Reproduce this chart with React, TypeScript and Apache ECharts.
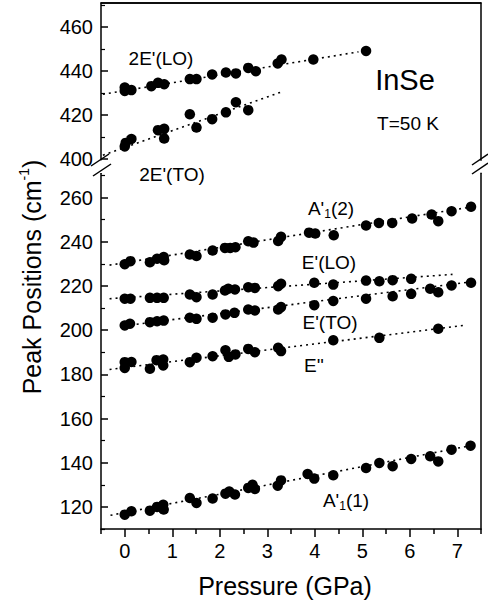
import React, { useEffect, useRef } from "react";
import * as echarts from "echarts";

// ---- data (pressure GPa, peak position cm^-1) ----
const lo2E: number[][] = [
  [0, 431], [0, 432.6], [0.14, 431.4], [0.56, 433.2], [0.7, 434.7], [0.83, 434.1],
  [1.37, 436.4], [1.51, 436.4], [1.84, 438.5], [2.13, 439.4], [2.34, 439], [2.6, 441.5],
  [2.76, 440], [3.22, 443.5], [3.3, 445.3], [3.97, 445.3], [5.08, 449.2],
];
const lo2EFit: number[][] = [[-0.46, 429.5], [4.92, 448.8]];

const to2E: number[][] = [
  [0, 405.8], [0.02, 407.4], [0.14, 409.2], [0.7, 413.2], [0.83, 413.8], [0.83, 409.4],
  [1.37, 420.4], [1.51, 414.4], [1.84, 418.2], [2.13, 421.3], [2.34, 425.9], [2.6, 422.3],
];
const to2EFit: number[][] = [[-0.46, 401.8], [3.3, 430.6]];

const a12: number[][] = [
  [0, 229.8], [0.12, 231.2], [0.53, 230.7], [0.68, 232.3], [0.82, 233.1], [0.83, 231.6],
  [1.37, 234.2], [1.51, 233.5], [1.85, 236], [2.11, 237.2], [2.22, 237.2], [2.33, 237.5],
  [2.6, 240.2], [2.71, 239.6], [3.23, 240.3], [3.29, 242.2], [3.88, 244.1], [4.01, 243.7],
  [4.4, 242.9], [5.08, 247.3], [5.35, 248.5], [5.63, 248.5], [6.05, 250.5], [6.46, 252.3],
  [6.6, 249.3], [6.88, 253.8], [7.29, 255.8],
];
const a12Fit: number[][] = [[-0.32, 229.4], [7.38, 256]];

const eLO: number[][] = [
  [0, 214.2], [0.12, 214.2], [0.53, 214.6], [0.68, 214.6], [0.82, 214.6], [1.37, 216.1],
  [1.51, 214.9], [1.85, 216.1], [2.11, 217.9], [2.18, 218.7], [2.32, 218.4], [2.6, 219.4],
  [2.74, 219.1], [3.23, 219.9], [3.29, 221], [3.99, 221.4], [4.39, 220.6], [5.08, 222.4],
  [5.36, 222.1], [5.64, 222.6], [6.03, 223.2],
];
const eLOFit: number[][] = [[-0.32, 214.2], [6.9, 225.2]];

const eTO: number[][] = [
  [0, 202.1], [0.11, 202.9], [0.53, 203.6], [0.68, 204], [0.82, 204.3], [1.37, 205.6],
  [1.51, 205.1], [1.85, 205.6], [2.12, 207.1], [2.31, 207.8], [2.6, 209.3], [2.74, 208.9],
  [3.23, 209.3], [3.29, 210.4], [3.99, 211.3], [4.39, 213.2], [5.08, 214.2], [5.64, 215.3],
  [6.03, 216.4], [6.43, 218.7], [6.6, 217.1], [6.88, 220.2], [7.29, 221.4],
];
const eTOFit: number[][] = [[0, 202], [7.35, 222]];

const e2: number[][] = [
  [0, 182.9], [0, 185.5], [0.14, 185.6], [0.53, 182.5], [0.67, 186.4], [0.81, 186.7],
  [0.81, 184], [1.37, 185.5], [1.51, 187.5], [1.85, 188.2], [2.12, 190.9], [2.19, 187.9],
  [2.33, 189], [2.6, 191.5], [2.74, 190], [3.23, 192], [3.29, 190.5], [4.39, 195.4],
  [5.36, 196.5], [6.6, 200.6],
];
const e2Fit: number[][] = [[-0.32, 182.2], [7.17, 202.2]];

const a11: number[][] = [
  [0, 116.5], [0.14, 118], [0.53, 118.3], [0.68, 120], [0.81, 121], [0.82, 118.8],
  [1.37, 124], [1.51, 121.8], [1.85, 123.8], [2.12, 126], [2.2, 127], [2.32, 125.6],
  [2.6, 128.6], [2.69, 130], [2.74, 128.1], [3.22, 129.6], [3.29, 132], [3.85, 134.9],
  [3.99, 132.8], [4.39, 134.3], [5.08, 137.6], [5.36, 139.9], [5.64, 138.4], [6.03, 141.7],
  [6.43, 142.9], [6.6, 140.6], [6.88, 145.9], [7.28, 147.7],
];
const a11Fit: number[][] = [[-0.3, 116.2], [7.35, 148]];

// ---- axis ticks ----
const xMajor = [0, 1, 2, 3, 4, 5, 6, 7];
const xMinor = [-0.5, 0.5, 1.5, 2.5, 3.5, 4.5, 5.5, 6.5, 7.5];
const yUpMajor = [400, 420, 440, 460];
const yUpMinor = [410, 430, 450, 470];
const yLoMajor = [120, 140, 160, 180, 200, 220, 240, 260];
const yLoMinor = [110, 130, 150, 170, 190, 210, 230, 250, 270];

const FONT = "Arial, 'Liberation Sans', sans-serif";
const BLACK = "#000";

function scatter(data: number[][], xi: number, yi: number) {
  return {
    type: "scatter",
    xAxisIndex: xi,
    yAxisIndex: yi,
    data,
    symbol: "circle",
    symbolSize: 10.5,
    itemStyle: { color: BLACK, opacity: 1 },
    silent: true,
    z: 3,
  };
}
function fit(data: number[][], xi: number, yi: number) {
  return {
    type: "line",
    xAxisIndex: xi,
    yAxisIndex: yi,
    data,
    showSymbol: false,
    symbol: "none",
    lineStyle: { color: BLACK, width: 1.6, type: [2, 4] },
    silent: true,
    z: 2,
  };
}

export default function App() {
  const ref = useRef<HTMLDivElement>(null);
  useEffect(() => {
    if (!ref.current) return;
    const chart = echarts.init(ref.current, null, { renderer: "svg" });
    const mkLine = () => ({ show: true, onZero: false, lineStyle: { color: BLACK, width: 1.5 } });
    const noLine = { show: false, onZero: false };
    const labelStyle = { color: BLACK, fontSize: 20, fontFamily: FONT };
    const baseX = { type: "value", min: -0.5, max: 7.5, splitLine: { show: false } };
    const yLo = { type: "value", gridIndex: 1, min: 110, max: 271, splitLine: { show: false } };
    const yUp = { type: "value", gridIndex: 0, min: 399.5, max: 471, splitLine: { show: false } };

    const txt = (x: number, y: number, text: string, size: number, rich?: any) => ({
      type: "text",
      x,
      y,
      silent: true,
      style: {
        text,
        fontSize: size,
        fontFamily: FONT,
        fill: BLACK,
        align: "center",
        verticalAlign: "middle",
        rich,
      },
    });
    const subRich = {
      b: { fontSize: 19, fontFamily: FONT, fill: BLACK, lineHeight: 24 },
      s: { fontSize: 12, fontFamily: FONT, fill: BLACK, verticalAlign: "bottom", lineHeight: 24 },
    };
    const slash = (x1: number, y1: number, x2: number, y2: number) => ({
      type: "line",
      silent: true,
      shape: { x1, y1, x2, y2 },
      style: { stroke: BLACK, lineWidth: 1.5 },
      z: 10,
    });

    chart.setOption({
      animation: false,
      backgroundColor: "#fff",
      grid: [
        { left: 101, top: 3, width: 380, height: 157.3, outerBoundsMode: "none", containLabel: false },
        { left: 101, top: 173.2, width: 380, height: 355.8, outerBoundsMode: "none", containLabel: false },
      ],
      xAxis: [
        { ...baseX, gridIndex: 0, position: "top", axisLine: mkLine(), axisTick: { show: false }, axisLabel: { show: false } },
        {
          ...baseX,
          gridIndex: 1,
          position: "bottom",
          axisLine: mkLine(),
          axisTick: { show: true, inside: false, length: 8, customValues: xMajor, lineStyle: { color: BLACK, width: 1.5 } },
          axisLabel: { show: true, customValues: xMajor, margin: 12, ...labelStyle },
        },
        {
          ...baseX,
          gridIndex: 1,
          position: "bottom",
          axisLine: noLine,
          axisTick: { show: true, inside: false, length: 5, customValues: xMinor, lineStyle: { color: BLACK, width: 1.5 } },
          axisLabel: { show: false },
        },
      ],
      yAxis: [
        {
          ...yUp,
          position: "left",
          axisLine: mkLine(),
          axisTick: { show: true, inside: true, length: 7, customValues: yUpMajor, lineStyle: { color: BLACK, width: 1.5 } },
          axisLabel: { show: true, customValues: yUpMajor, margin: 8, ...labelStyle },
        },
        {
          ...yUp,
          position: "left",
          axisLine: noLine,
          axisTick: { show: true, inside: true, length: 4, customValues: yUpMinor, lineStyle: { color: BLACK, width: 1.2 } },
          axisLabel: { show: false },
        },
        { ...yUp, position: "right", axisLine: mkLine(), axisTick: { show: false }, axisLabel: { show: false } },
        {
          ...yLo,
          position: "left",
          axisLine: mkLine(),
          axisTick: { show: true, inside: true, length: 7, customValues: yLoMajor, lineStyle: { color: BLACK, width: 1.5 } },
          axisLabel: { show: true, customValues: yLoMajor, margin: 8, ...labelStyle },
        },
        {
          ...yLo,
          position: "left",
          axisLine: noLine,
          axisTick: { show: true, inside: true, length: 4, customValues: yLoMinor, lineStyle: { color: BLACK, width: 1.2 } },
          axisLabel: { show: false },
        },
        { ...yLo, position: "right", axisLine: mkLine(), axisTick: { show: false }, axisLabel: { show: false } },
      ],
      series: [
        fit(lo2EFit, 0, 0), scatter(lo2E, 0, 0),
        fit(to2EFit, 0, 0), scatter(to2E, 0, 0),
        fit(a12Fit, 1, 3), scatter(a12, 1, 3),
        fit(eLOFit, 1, 3), scatter(eLO, 1, 3),
        fit(eTOFit, 1, 3), scatter(eTO, 1, 3),
        fit(e2Fit, 1, 3), scatter(e2, 1, 3),
        fit(a11Fit, 1, 3), scatter(a11, 1, 3),
      ],
      graphic: [
        // top frame edge
        slash(101, 3, 481, 3),
        // axis break marks
        { type: "rect", silent: true, shape: { x: 96, y: 160.5, width: 10, height: 12.5 }, style: { fill: "#fff" }, z: 9 },
        slash(91, 166, 109, 154),
        slash(93, 176, 111, 164),
        slash(472, 165, 488, 154),
        slash(472, 174, 488, 163),
        // titles
        {
          type: "text",
          x: 32,
          y: 277,
          rotation: Math.PI / 2,
          silent: true,
          style: {
            text: "{a|Peak Positions (cm}{s|-1}{a|)}",
            fill: BLACK,
            align: "center",
            verticalAlign: "middle",
            rich: {
              a: { fontSize: 25, fontFamily: FONT, fill: BLACK, lineHeight: 30 },
              s: { fontSize: 14, fontFamily: FONT, fill: BLACK, verticalAlign: "top", lineHeight: 30 },
            },
          },
        },
        txt(285, 586, "Pressure (GPa)", 25),
        // annotations
        txt(161, 58, "2E'(LO)", 19),
        txt(172, 174, "2E'(TO)", 19),
        txt(405, 80, "InSe", 29),
        txt(408, 123, "T=50 K", 19),
        txt(331, 208, "{b|A'}{s|1}{b|(2)}", 19, subRich),
        txt(329, 262, "E'(LO)", 19),
        txt(330, 322, "E'(TO)", 19),
        txt(314, 365, "E''", 19),
        txt(346, 500, "{b|A'}{s|1}{b|(1)}", 19, subRich),
      ],
    });
    return () => chart.dispose();
  }, []);
  return <div ref={ref} style={{ position: "absolute", left: 0, top: 0, width: 488, height: 605 }} />;
}
